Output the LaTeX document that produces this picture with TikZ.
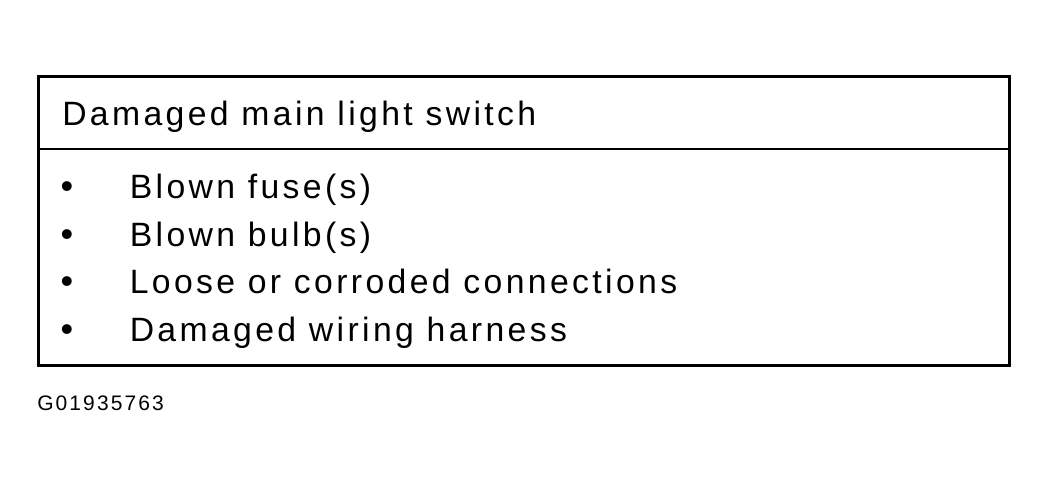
\documentclass[tikz,border=0pt]{standalone}
\usepackage{fontspec}
\setmainfont{Liberation Sans}[LetterSpace=10]
\usetikzlibrary{positioning}
\tikzstyle{frame} = [draw, line width=2.25pt]
\tikzstyle{divider} = [draw, line width=1.5pt]
\tikzstyle{txt} = [inner sep=0pt, font=\fontsize{25.3}{30}\selectfont,
    text height=19pt, text depth=6pt]
\tikzstyle{item} = [txt]
\tikzstyle{bullet} = [inner sep=0pt, anchor=base, font=\fontsize{27}{30}\selectfont]
\tikzstyle{code} = [inner sep=0pt, anchor=base west, font=\fontsize{15.75}{20}\selectfont]

\begin{document}
\begin{tikzpicture}[x=0.75pt, y=-0.75pt, node distance = 10.4pt]
    \useasboundingbox (0,0) rectangle (1049,487);
    % Frame
    \coordinate (tl) at (38.5,76.5);
    \coordinate (br) at (1009.5,365);
    \path [frame] (tl) rectangle (br);
    \coordinate (dl) at (38.5,149);
    \coordinate (dr) at (1009.5,149);
    \path [divider] (dl) -- (dr);
    % Place nodes
    \node [txt, anchor=base west] (title) at (62,125) {Damaged main light switch};
    \node [txt, anchor=base west] (fuse) at (129.5,198.3) {Blown fuse(s)};
    \node [item, below=of fuse.south west, anchor=north west] (bulb) {Blown bulb(s)};
    \node [item, below=of bulb.south west, anchor=north west] (loose) {Loose or corroded connections};
    \node [item, below=of loose.south west, anchor=north west] (wiring) {Damaged wiring harness};
    % Bullets
    \coordinate (bx) at (67,0);
    \node [bullet] (b1) at (bx |- fuse.base) {•};
    \node [bullet] (b2) at (bx |- bulb.base) {•};
    \node [bullet] (b3) at (bx |- loose.base) {•};
    \node [bullet] (b4) at (bx |- wiring.base) {•};
    % Figure code
    \node [code] (figcode) at (37,410) {G01935763};
\end{tikzpicture}
\end{document}
